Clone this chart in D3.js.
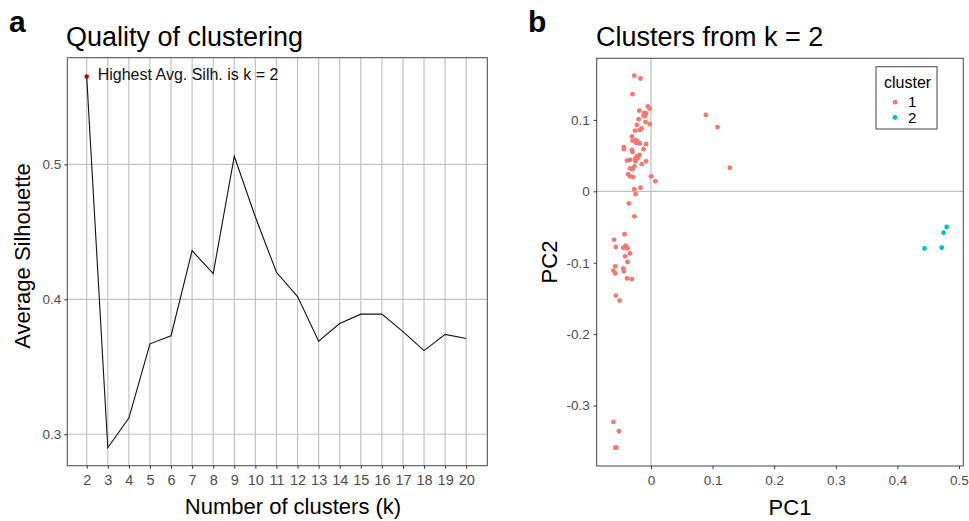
<!DOCTYPE html>
<html>
<head>
<meta charset="utf-8">
<script src="https://cdn.jsdelivr.net/npm/d3@7"></script>
<style>
  body { margin: 0; background: #fff; }
  svg { display: block; font-family: "Liberation Sans", Arial, sans-serif; }
  .tick text { fill: #4d4d4d; font-size: 13.5px; }
  .tick line { stroke: #333; }
  .kaxis .tick text { font-size: 14.5px; }
</style>
</head>
<body>
<svg id="chart" width="969" height="521"></svg>
<script>
// panel a: average silhouette per k
var kValues = [2, 3, 4, 5, 6, 7, 8, 9, 10, 11, 12, 13, 14, 15, 16, 17, 18, 19, 20];
var avgSilhouette = [0.565, 0.290, 0.312, 0.367, 0.373, 0.436, 0.419, 0.506, 0.461, 0.420,
                     0.402, 0.369, 0.382, 0.389, 0.389, 0.376, 0.362, 0.374, 0.371];
var silTicks = [0.3, 0.4, 0.5];
var bestK = 2;

// panel b: PCA coordinates and cluster labels
var pc1 = [-0.027, -0.017, -0.030, -0.005, -0.002, -0.019, -0.011, -0.008, -0.012, -0.010,
           -0.020, -0.009, -0.023, -0.002, -0.015, -0.018, -0.026, -0.031, -0.025, -0.030,
           -0.022, -0.024, -0.018, -0.008, -0.044, -0.044, -0.031, -0.012, -0.030, -0.019,
           -0.023, -0.026, -0.021, -0.034, -0.039, -0.025, -0.008, -0.015, -0.027, -0.034,
           -0.030, -0.037, -0.034, -0.029, 0.000, 0.007, -0.017, -0.027, -0.025, -0.036,
           -0.027, -0.043, -0.060, -0.057, -0.045, -0.041, -0.038, -0.042, -0.034, -0.038,
           -0.058, -0.045, -0.044, -0.061, -0.058, -0.039, -0.031, -0.057, -0.051, -0.061,
           -0.052, -0.058, -0.056, 0.089, 0.108, 0.128,
           0.480, 0.475, 0.472, 0.444];
var pc2 = [0.162, 0.158, 0.136, 0.119, 0.116, 0.113, 0.110, 0.109, 0.106, 0.105,
           0.101, 0.097, 0.093, 0.094, 0.088, 0.086, 0.085, 0.077, 0.072, 0.071,
           0.070, 0.068, 0.067, 0.066, 0.062, 0.059, 0.058, 0.059, 0.055, 0.051,
           0.049, 0.045, 0.047, 0.044, 0.043, 0.042, 0.042, 0.038, 0.035, 0.032,
           0.031, 0.024, 0.021, 0.020, 0.021, 0.014, 0.005, 0.003, -0.004, -0.017,
           -0.035, -0.060, -0.068, -0.078, -0.079, -0.076, -0.080, -0.091, -0.087, -0.099,
           -0.105, -0.108, -0.112, -0.111, -0.115, -0.122, -0.123, -0.146, -0.153, -0.323,
           -0.336, -0.359, -0.359, 0.107, 0.090, 0.033,
           -0.050, -0.058, -0.079, -0.080];
var clusterOf = [];
for (var i = 0; i < pc1.length; i++) clusterOf.push(i < pc1.length - 4 ? "1" : "2");
var clusterNames = ["1", "2"];
var clusterColors = ["#F8766D", "#00BFC4"];
var pc1Ticks = [0, 0.1, 0.2, 0.3, 0.4, 0.5];
var pc2Ticks = [-0.3, -0.2, -0.1, 0, 0.1];

var svg = d3.select("#chart");
svg.append("rect").attr("width", 969).attr("height", 521).attr("fill", "#fff");

var gridColor = "#c2c2c2", borderColor = "#555";
var plain = function(d) { return String(d); };   // hyphen minus, like R

// ---------- panel a ----------
var xL = d3.scaleLinear().domain([1.08, 21.0]).range([67.3, 487.3]);
var yL = d3.scaleLinear().domain([0.2767, 0.579]).range([465.7, 57.7]);

var a = svg.append("g");
a.selectAll(".vgrid").data(kValues).enter().append("line")
    .attr("x1", function(d) { return xL(d); }).attr("x2", function(d) { return xL(d); })
    .attr("y1", yL.range()[1]).attr("y2", yL.range()[0])
    .attr("stroke", gridColor).attr("stroke-width", 1.2);
a.selectAll(".hgrid").data(silTicks).enter().append("line")
    .attr("y1", function(d) { return yL(d); }).attr("y2", function(d) { return yL(d); })
    .attr("x1", xL.range()[0]).attr("x2", xL.range()[1])
    .attr("stroke", gridColor).attr("stroke-width", 1.2);

var line = d3.line().x(function(d, i) { return xL(kValues[i]); }).y(function(d) { return yL(d); });
a.append("path").datum(avgSilhouette).attr("d", line)
    .attr("fill", "none").attr("stroke", "#111").attr("stroke-width", 1.1);

var bestIdx = kValues.indexOf(bestK);
a.append("circle").attr("cx", xL(bestK)).attr("cy", yL(avgSilhouette[bestIdx]))
    .attr("r", 2.3).attr("fill", "#a50f15");
a.append("text").attr("x", xL(bestK) + 11).attr("y", yL(avgSilhouette[bestIdx]) + 3)
    .attr("font-size", 16).attr("fill", "#111").text("Highest Avg. Silh. is k = " + bestK);

a.append("rect").attr("x", 67.3).attr("y", 57.7).attr("width", 420).attr("height", 408)
    .attr("fill", "none").attr("stroke", borderColor).attr("stroke-width", 1.1);

a.append("g").attr("class", "kaxis").attr("transform", "translate(0,465.7)")
    .call(d3.axisBottom(xL).tickValues(kValues).tickSize(3).tickPadding(6).tickFormat(plain))
    .call(function(g) { g.select(".domain").remove(); });
a.append("g").attr("transform", "translate(67.3,0)")
    .call(d3.axisLeft(yL).tickValues(silTicks).tickSize(3).tickPadding(3).tickFormat(d3.format(".1f")))
    .call(function(g) { g.select(".domain").remove(); });

a.append("text").attr("x", 293).attr("y", 514).attr("text-anchor", "middle")
    .attr("font-size", 22).text("Number of clusters (k)");
a.append("text").attr("transform", "translate(30,256) rotate(-90)").attr("text-anchor", "middle")
    .attr("font-size", 22).text("Average Silhouette");
a.append("text").attr("x", 66).attr("y", 46).attr("font-size", 27).text("Quality of clustering");
a.append("text").attr("x", 9).attr("y", 32).attr("font-size", 30).attr("font-weight", "bold").text("a");

// ---------- panel b ----------
var xR = d3.scaleLinear().domain([-0.0881, 0.507]).range([596.7, 963.3]);
var yR = d3.scaleLinear().domain([-0.3847, 0.1863]).range([466, 58.3]);
var color = d3.scaleOrdinal().domain(clusterNames).range(clusterColors);

var b = svg.append("g");
b.append("line").attr("x1", xR(0)).attr("x2", xR(0)).attr("y1", yR.range()[1]).attr("y2", yR.range()[0])
    .attr("stroke", gridColor).attr("stroke-width", 1.3);
b.append("line").attr("y1", yR(0)).attr("y2", yR(0)).attr("x1", xR.range()[0]).attr("x2", xR.range()[1])
    .attr("stroke", gridColor).attr("stroke-width", 1.3);

b.selectAll(".pt").data(pc1).enter().append("circle")
    .attr("cx", function(d) { return xR(d); })
    .attr("cy", function(d, i) { return yR(pc2[i]); })
    .attr("r", 2.4)
    .attr("fill", function(d, i) { return color(clusterOf[i]); });

b.append("rect").attr("x", 596.7).attr("y", 58.3).attr("width", 366.6).attr("height", 407.7)
    .attr("fill", "none").attr("stroke", borderColor).attr("stroke-width", 1.1);

b.append("g").attr("transform", "translate(0,466)")
    .call(d3.axisBottom(xR).tickValues(pc1Ticks).tickSize(3).tickPadding(6).tickFormat(plain))
    .call(function(g) { g.select(".domain").remove(); });
b.append("g").attr("transform", "translate(596.7,0)")
    .call(d3.axisLeft(yR).tickValues(pc2Ticks).tickSize(3).tickPadding(4).tickFormat(plain))
    .call(function(g) { g.select(".domain").remove(); });

b.append("text").attr("x", 790).attr("y", 515).attr("text-anchor", "middle")
    .attr("font-size", 22).text("PC1");
b.append("text").attr("transform", "translate(557,262) rotate(-90)").attr("text-anchor", "middle")
    .attr("font-size", 22).text("PC2");
b.append("text").attr("x", 596).attr("y", 46).attr("font-size", 27).text("Clusters from k = 2");
b.append("text").attr("x", 528).attr("y", 32).attr("font-size", 30).attr("font-weight", "bold").text("b");

// legend
var lg = b.append("g").attr("transform", "translate(876,66.7)");
lg.append("rect").attr("width", 61).attr("height", 62.3)
    .attr("fill", "#fff").attr("stroke", borderColor).attr("stroke-width", 1.1);
lg.append("text").attr("x", 8).attr("y", 21).attr("font-size", 16).text("cluster");
var items = lg.selectAll(".item").data(clusterNames).enter().append("g")
    .attr("transform", function(d, i) { return "translate(0," + (35.5 + i * 15.3) + ")"; });
items.append("circle").attr("cx", 19).attr("r", 2.4).attr("fill", function(d) { return color(d); });
items.append("text").attr("x", 32).attr("y", 5).attr("font-size", 15).text(function(d) { return d; });
</script>
</body>
</html>
